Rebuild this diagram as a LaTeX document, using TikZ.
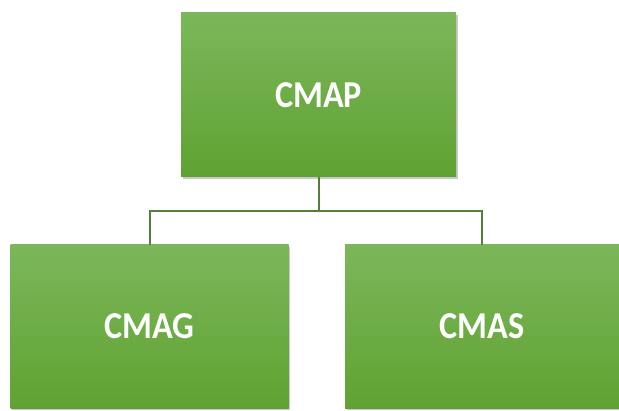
\documentclass[tikz,border=0pt]{standalone}
\usepackage{fontspec}
\setmainfont{Carlito}[FakeStretch=0.9]
\usetikzlibrary{shadows}
\definecolor{gtop}{HTML}{7BB75A}
\definecolor{gbot}{HTML}{60A232}
\definecolor{lnk}{HTML}{557F38}
\tikzset{
  box/.style={rectangle, draw=none, top color=gtop, bottom color=gbot,
    text=white, font=\fontsize{38}{42}\selectfont\bfseries, inner sep=0pt,
    drop shadow={shadow xshift=1.5pt, shadow yshift=-2pt, opacity=0.35, fill=black!60}},
  link/.style={draw=lnk, line width=2pt}
}
\begin{document}
\begin{tikzpicture}[x=1pt,y=1pt]
\useasboundingbox[fill=white] (0,0) rectangle (619,410);
\node[box, minimum width=275pt, minimum height=164pt] (cmap) at (318.5,315) {CMAP};
\node[box, minimum width=278pt, minimum height=163pt] (cmag) at (149.5,83.5) {CMAG};
\node[box, minimum width=274pt, minimum height=163pt] (cmas) at (482,83.5) {CMAS};
\coordinate (bus) at (318.5,199);
\draw[link] (cmap.south) -- (bus);
\draw[link] (cmag.north) |- (bus) -| (cmas.north);
\end{tikzpicture}
\end{document}
